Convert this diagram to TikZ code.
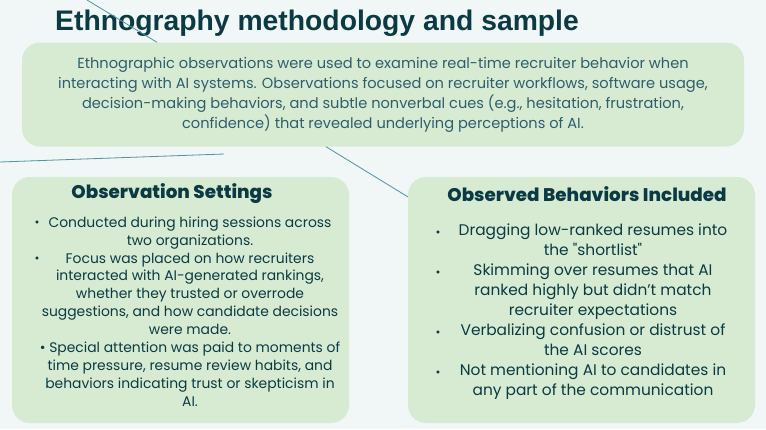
\documentclass[tikz,border=0pt]{standalone}
\usepackage{fontspec}
\setmainfont{Poppins}
\newfontfamily\titlefont{Liberation Sans}
\IfFontExistsTF{Poppins ExtraBold}
  {\newfontfamily\headfont{Poppins ExtraBold}}
  {\newcommand\headfont{\bfseries}}
\usepackage{tikz}
\usetikzlibrary{positioning}
\definecolor{pagebg}{HTML}{F1F6F6}
\definecolor{panelgreen}{HTML}{D6EBD1}
\definecolor{deepteal}{HTML}{0B3A44}
\definecolor{introblue}{HTML}{2F5D6E}
\definecolor{lineteal}{HTML}{4F93A3}
\tikzset{
  titletext/.style = {inner sep=0pt, text=deepteal,
    font=\titlefont\bfseries\fontsize{28.3}{32}\selectfont},
  panel/.style = {draw=none, fill=panelgreen, rounded corners=18pt,
    inner sep=0pt},% bloc vert clair
  headtext/.style = {inner sep=0pt, text=deepteal,
    font=\headfont\fontsize{18.3}{22}\selectfont},% titre de bloc
  bodytext/.style = {inner sep=0pt, align=center, text=deepteal},
  bulletmark/.style = {inner sep=0pt, anchor=base, text=deepteal,
    font=\fontsize{12}{12}\selectfont},
  deco/.style = {draw=lineteal, line width=0.8pt}% trait fin
}

\begin{document}
\begin{tikzpicture}[x=1pt, y=-1pt]
\fill[pagebg] (0,0) rectangle (766,429);
\useasboundingbox (0,0) rectangle (766,429);

\node [titletext, anchor=base west] (title) at (55,30)
  {Ethnography methodology and sample};

\node [panel, minimum width=722pt, minimum height=104pt, align=center,
  text=introblue, font=\fontsize{14.6}{20}\selectfont] (intro) at (383,94.5)
  {Ethnographic observations were used to examine real-time recruiter behavior when\\
   interacting with AI systems. Observations focused on recruiter workflows, software usage,\\
   decision-making behaviors, and subtle nonverbal cues (e.g., hesitation, frustration,\\
   confidence) that revealed underlying perceptions of AI.};

\node [panel, minimum width=337pt, minimum height=246pt] (settings) at (180.5,300) {};
\node [panel, minimum width=347pt, minimum height=246pt] (behaviors) at (581.5,300) {};

\node [headtext] (settingsHead) at (172,194) {Observation Settings};
\node [headtext] (behaviorsHead) at (587,194) {Observed Behaviors Included};

\node [bodytext, font=\fontsize{13.9}{17.9}\selectfont] (settingsBody) at (190,311.5)
  {Conducted during hiring sessions across\\
   two organizations.\\
   Focus was placed on how recruiters\\
   interacted with AI-generated rankings,\\
   whether they trusted or overrode\\
   suggestions, and how candidate decisions\\
   were made.\\
   • Special attention was paid to moments of\\
   time pressure, resume review habits, and\\
   behaviors indicating trust or skepticism in\\
   AI.};
\foreach \y [count=\i] in {226,262}
  \node [bulletmark] (settingsDot\i) at (37,\y) {•};

\node [bodytext, font=\fontsize{15.4}{20}\selectfont] (behaviorsBody) at (593,312)
  {Dragging low-ranked resumes into\\
   the \textquotedbl shortlist\textquotedbl\\
   Skimming over resumes that AI\\
   ranked highly but didn’t match\\
   recruiter expectations\\
   Verbalizing confusion or distrust of\\
   the AI scores\\
   Not mentioning AI to candidates in\\
   any part of the communication};
\foreach \y [count=\i] in {236,276,336,376}
  \node [bulletmark] (behaviorsDot\i) at (438,\y) {•};

% traits decoratifs
\coordinate (topEdge) at (87,0);
\coordinate (leftEdge) at (0,162);
\coordinate (leftTip) at (224,154);
\draw [deco] (topEdge) -- ([xshift=-226pt]intro.north);
\draw [deco] (leftEdge) -- (leftTip);
\draw [deco] ([xshift=-57pt]intro.south) -- ([yshift=-20pt]behaviors.north west);
\end{tikzpicture}
\end{document}
